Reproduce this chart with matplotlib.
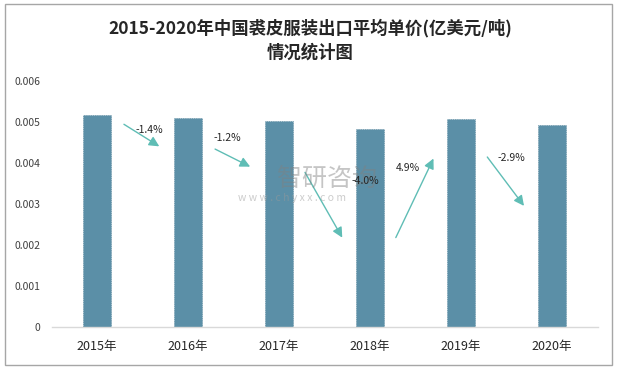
import matplotlib.pyplot as plt
from matplotlib.patches import Rectangle
from matplotlib.ticker import FuncFormatter

plt.rcParams['font.family'] = ['Noto Sans CJK SC', 'DejaVu Sans']

# data
years = ['2015年', '2016年', '2017年', '2018年', '2019年', '2020年']
prices = [0.00517, 0.00510, 0.00503, 0.00484, 0.00507, 0.00493]
growth = ['-1.4%', '-1.2%', '-4.0%', '4.9%', '-2.9%']

# arrow geometry (y start / end) and label positions
arrow_y0 = [0.00498, 0.00437, 0.00383, 0.00212, 0.00420]
arrow_y1 = [0.00437, 0.00388, 0.00212, 0.00417, 0.00290]
label_xy = [(0.58, 0.00480), (1.43, 0.00461), (2.95, 0.00356), (3.42, 0.00388), (4.55, 0.00412)]

fig = plt.figure(figsize=(6.17, 3.69), dpi=100)
fig.patches.append(Rectangle((0.008, 0.012), 0.984, 0.976, transform=fig.transFigure,
                             fill=False, edgecolor='#a6a6a6', linewidth=1.0))
ax = fig.add_axes([0.0835, 0.1138, 0.885, 0.6667])

x = range(len(years))
ax.bar(x, prices, width=0.31, color='#5b8fa7', edgecolor='#4f7f96', linewidth=0.5,
       linestyle=':', zorder=2)

for i in range(len(growth)):
    ax.annotate('', xy=(i + 0.71, arrow_y1[i]), xytext=(i + 0.27, arrow_y0[i]),
                arrowprops=dict(arrowstyle='-|>', color='#5fbdb5', lw=1.0,
                                mutation_scale=15), zorder=3)
    ax.text(label_xy[i][0], label_xy[i][1], growth[i], fontsize=7.5,
            ha='center', va='center', color='#262626', zorder=5)

# watermark
ax.text(0.505, 0.6, '智研咨询', transform=ax.transAxes, fontsize=18, color='#808080',
        alpha=0.45, ha='center', va='center', zorder=4)
ax.text(0.44, 0.525, 'w w w . c h y x x . c o m', transform=ax.transAxes, fontsize=7.5,
        color='#9a9a9a', alpha=0.5, ha='center', va='center', zorder=4)

ax.set_xlim(-0.5, len(years) - 0.5)
ax.set_ylim(0, 0.006)
ax.set_yticks([0, 0.001, 0.002, 0.003, 0.004, 0.005, 0.006])
ax.yaxis.set_major_formatter(FuncFormatter(lambda v, p: '0' if v == 0 else f'{v:.3f}'))
ax.set_xticks(list(x))
ax.set_xticklabels(years, fontsize=9)
ax.tick_params(axis='y', labelsize=7.5, length=0, pad=8, colors='#404040')
ax.tick_params(axis='x', length=0, pad=9, colors='#262626')

for s in ['top', 'right', 'left']:
    ax.spines[s].set_visible(False)
ax.spines['bottom'].set_color('#d9d9d9')
ax.spines['bottom'].set_linewidth(1.0)

fig.text(0.503, 0.925, '2015-2020年中国裘皮服装出口平均单价(亿美元/吨)', ha='center', va='center',
         fontsize=12.5, fontweight='bold', color='#262626')
fig.text(0.503, 0.858, '情况统计图', ha='center', va='center',
         fontsize=12.5, fontweight='bold', color='#262626')

fig.savefig('out.png', dpi=100)
